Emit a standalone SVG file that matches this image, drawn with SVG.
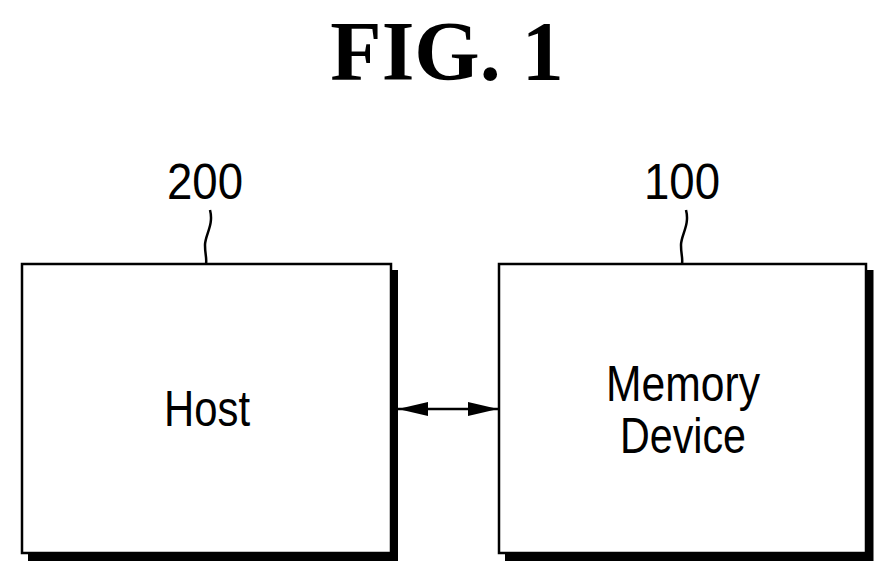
<svg xmlns="http://www.w3.org/2000/svg" width="890" height="582" viewBox="0 0 890 582">
<style>
.box{fill:#fff;stroke:#000;stroke-width:2.5}
.sh{fill:none;stroke:#000;stroke-width:7}
.lbl{font-family:"Liberation Sans",Arial,sans-serif;font-size:50px;text-anchor:middle}
.ld{fill:none;stroke:#000;stroke-width:2.5}
</style>
<defs>
<marker id="ah" markerWidth="30" markerHeight="14" refX="30" refY="7" orient="auto-start-reverse" markerUnits="userSpaceOnUse" viewBox="0 0 30 14">
<path d="M0,0 L30,7 L0,14 Z" fill="#000"/>
</marker>
</defs>
<rect width="890" height="582" fill="#fff"/>
<text x="447" y="80" font-family="Liberation Serif,serif" font-weight="bold" font-size="84" text-anchor="middle">FIG. 1</text>
<g id="host">
<path class="sh" d="M394.5 270 V557.5 H28"/>
<rect class="box" x="22" y="264" width="369" height="289"/>
<text class="lbl" x="207" y="426" textLength="86" lengthAdjust="spacingAndGlyphs">Host</text>
<text class="lbl" x="205" y="199" textLength="76" lengthAdjust="spacingAndGlyphs">200</text>
<path class="ld" d="M210 210 C214 225,205 235,205 245 C205 255,207 258,206 264"/>
</g>
<g id="memory">
<path class="sh" d="M870 270 V557.5 H505"/>
<rect class="box" x="499" y="264" width="367" height="289"/>
<text class="lbl" x="683" y="401" textLength="154" lengthAdjust="spacingAndGlyphs">Memory</text>
<text class="lbl" x="683" y="453" textLength="126" lengthAdjust="spacingAndGlyphs">Device</text>
<text class="lbl" x="682" y="199" textLength="76" lengthAdjust="spacingAndGlyphs">100</text>
<path class="ld" d="M686 210 C690 225,681 235,681 245 C681 255,683 258,682 264"/>
</g>
<g id="connectors">
<line x1="398" y1="409" x2="498" y2="409" stroke="#000" stroke-width="2.5" marker-start="url(#ah)" marker-end="url(#ah)"/>
</g>
</svg>
